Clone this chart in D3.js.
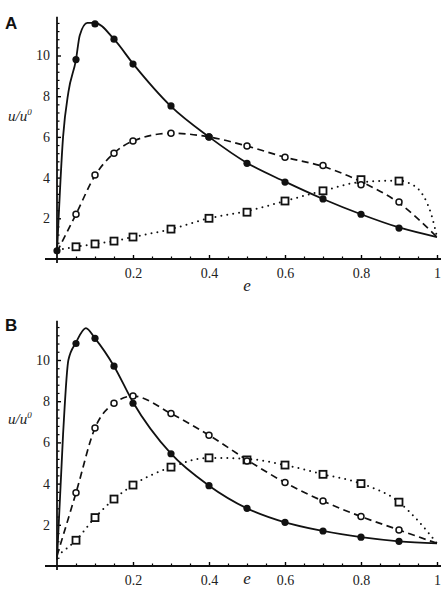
<!DOCTYPE html>
<html>
<head>
<meta charset="utf-8">
<script src="https://cdn.jsdelivr.net/npm/d3@7"></script>
<style>
  body { margin: 0; background: #fff; }
  svg { display: block; }
</style>
</head>
<body>
<div id="chart"></div>
<script>
// sample positions (e)
var markE = [0.05, 0.1, 0.15, 0.2, 0.3, 0.4, 0.5, 0.6, 0.7, 0.8, 0.9];
var xTicks = [0.2, 0.4, 0.6, 0.8, 1];
var yTicks = [2, 4, 6, 8, 10];

// panel A, marker values
var aSolidE = [0, 0.05, 0.1, 0.15, 0.2, 0.3, 0.4, 0.5, 0.6, 0.7, 0.8, 0.9];
var aSolidU = [0.4, 9.8, 11.55, 10.8, 9.58, 7.52, 6.0, 4.7, 3.78, 2.95, 2.2, 1.52];
var aDashU = [2.2, 4.13, 5.2, 5.8, 6.18, 6.0, 5.55, 5.0, 4.6, 3.65, 2.8];
var aDotU = [0.6, 0.74, 0.88, 1.08, 1.47, 2.0, 2.3, 2.85, 3.35, 3.9, 3.83];

// panel A, fitted curves
var aSolidLineE = [0, 0.016, 0.03, 0.05, 0.06, 0.08, 0.1, 0.15, 0.2, 0.3, 0.4, 0.5, 0.6, 0.7, 0.8, 0.9, 1];
var aSolidLineU = [0.3, 6, 8.2, 9.8, 11.0, 11.6, 11.6, 10.8, 9.6, 7.5, 6.0, 4.72, 3.8, 2.95, 2.2, 1.55, 1.08];
var aDashLineE = [0, 0.05, 0.1, 0.15, 0.2, 0.3, 0.4, 0.5, 0.6, 0.7, 0.8, 0.9, 1];
var aDashLineU = [0.35, 2.2, 4.1, 5.2, 5.8, 6.18, 6.0, 5.55, 5.0, 4.55, 3.8, 2.75, 1.08];
var aDotLineE = [0, 0.05, 0.1, 0.15, 0.2, 0.3, 0.4, 0.5, 0.6, 0.7, 0.8, 0.9, 0.93, 0.95, 0.966, 0.987, 1];
var aDotLineU = [0.45, 0.6, 0.74, 0.88, 1.08, 1.47, 2.0, 2.35, 2.85, 3.35, 3.78, 3.85, 3.7, 3.45, 3.05, 2.06, 1.08];

// panel B, marker values
var bSolidE = [0.05, 0.1, 0.15, 0.2, 0.3, 0.4, 0.5, 0.6, 0.7, 0.8, 0.9];
var bSolidU = [10.8, 11.05, 9.7, 7.9, 5.45, 3.9, 2.8, 2.12, 1.7, 1.4, 1.2];
var bDashU = [3.55, 6.7, 7.9, 8.25, 7.4, 6.35, 5.1, 4.05, 3.15, 2.4, 1.75];
var bDotU = [1.25, 2.35, 3.25, 3.93, 4.8, 5.25, 5.15, 4.9, 4.45, 4.0, 3.1];

// panel B, fitted curves
var bSolidLineE = [0, 0.016, 0.03, 0.05, 0.076, 0.1, 0.15, 0.2, 0.3, 0.4, 0.5, 0.6, 0.7, 0.8, 0.9, 1];
var bSolidLineU = [0.3, 6.4, 10.0, 10.85, 11.55, 11.05, 9.7, 7.95, 5.45, 3.9, 2.8, 2.12, 1.7, 1.4, 1.2, 1.1];
var bDashLineE = [0, 0.05, 0.1, 0.15, 0.2, 0.3, 0.4, 0.5, 0.6, 0.7, 0.8, 0.9, 1];
var bDashLineU = [0.5, 3.55, 6.7, 7.9, 8.25, 7.4, 6.35, 5.15, 4.05, 3.15, 2.4, 1.75, 1.1];
var bDotLineE = [0, 0.05, 0.1, 0.15, 0.2, 0.3, 0.4, 0.5, 0.6, 0.7, 0.8, 0.9, 0.95, 1];
var bDotLineU = [0.5, 1.25, 2.35, 3.25, 3.93, 4.8, 5.25, 5.2, 4.9, 4.45, 4.0, 3.1, 2.2, 1.1];

var W = 448, H = 590;
var serif = '"Liberation Serif", "DejaVu Serif", serif';
var svg = d3.select('#chart').append('svg')
  .attr('width', W).attr('height', H);

var x = d3.scaleLinear().domain([0, 1]).range([57, 437]);

function zip(es, us) { return es.map(function (e, i) { return [e, us[i]]; }); }

function panel(opt) {
  var y = d3.scaleLinear().domain([0, 12]).range([opt.base, opt.base - 12 * opt.unit]);
  var g = svg.append('g');

  // minor ticks
  var xMinor = d3.range(0.05, 1.001, 0.05).filter(function (v) { return Math.abs(v * 5 - Math.round(v * 5)) > 1e-6; });
  var yMinor = d3.range(0.4, 11.9, 0.4).filter(function (v) { return Math.abs(v / 2 - Math.round(v / 2)) > 1e-6; });

  g.append('g').attr('transform', 'translate(0,' + y(0) + ')')
    .call(d3.axisBottom(x).tickValues(xMinor).tickSizeInner(-2.5).tickSizeOuter(0).tickFormat(''))
    .call(function (s) { s.select('.domain').remove(); s.selectAll('line').attr('stroke-width', 1.2); });
  g.append('g').attr('transform', 'translate(' + x(0) + ',0)')
    .call(d3.axisLeft(y).tickValues(yMinor).tickSizeInner(-2.5).tickSizeOuter(0).tickFormat(''))
    .call(function (s) { s.select('.domain').remove(); s.selectAll('line').attr('stroke-width', 1.2); });

  // major ticks
  g.append('g').attr('transform', 'translate(0,' + y(0) + ')')
    .call(d3.axisBottom(x).tickValues(xTicks).tickSizeInner(-4).tickSizeOuter(0).tickPadding(9)
      .tickFormat(function (d) { return d === 1 ? '1' : d3.format('.1f')(d); }))
    .attr('font-family', serif).attr('font-size', 14)
    .call(function (s) { s.select('.domain').remove(); s.selectAll('line').attr('stroke-width', 1.4); s.selectAll('text').attr('fill', '#222'); });
  g.append('g').attr('transform', 'translate(' + x(0) + ',0)')
    .call(d3.axisLeft(y).tickValues(yTicks).tickSizeInner(-4).tickSizeOuter(0).tickPadding(7))
    .attr('font-family', serif).attr('font-size', 14)
    .call(function (s) { s.select('.domain').remove(); s.selectAll('line').attr('stroke-width', 1.4); s.selectAll('text').attr('fill', '#222'); });

  // axis lines, crossing at the origin
  g.append('line').attr('x1', 45).attr('x2', 441).attr('y1', y(0)).attr('y2', y(0))
    .attr('stroke', '#111').attr('stroke-width', 1.8);
  g.append('line').attr('x1', x(0)).attr('x2', x(0)).attr('y1', y(0) + 4).attr('y2', y(11.9))
    .attr('stroke', '#111').attr('stroke-width', 1.8);

  var line = d3.line().x(function (d) { return x(d[0]); }).y(function (d) { return y(d[1]); })
    .curve(d3.curveMonotoneX);

  g.append('path').attr('d', line(opt.dotLine)).attr('fill', 'none').attr('stroke', '#111')
    .attr('stroke-width', 2).attr('stroke-linecap', 'round').attr('stroke-dasharray', '0,6');
  g.append('path').attr('d', line(opt.dashLine)).attr('fill', 'none').attr('stroke', '#111')
    .attr('stroke-width', 1.7).attr('stroke-dasharray', '7,4.5');
  g.append('path').attr('d', line(opt.solidLine)).attr('fill', 'none').attr('stroke', '#111')
    .attr('stroke-width', 1.8);

  // markers
  g.selectAll('rect.sq').data(opt.dots).enter().append('rect').attr('class', 'sq')
    .attr('x', function (d) { return x(d[0]) - 3.5; }).attr('y', function (d) { return y(d[1]) - 3.5; })
    .attr('width', 7).attr('height', 7).attr('fill', '#fff').attr('stroke', '#111').attr('stroke-width', 1.8);
  g.selectAll('circle.op').data(opt.dashes).enter().append('circle').attr('class', 'op')
    .attr('cx', function (d) { return x(d[0]); }).attr('cy', function (d) { return y(d[1]); })
    .attr('r', 3).attr('fill', '#fff').attr('stroke', '#111').attr('stroke-width', 1.5);
  g.selectAll('circle.fl').data(opt.solids).enter().append('circle').attr('class', 'fl')
    .attr('cx', function (d) { return x(d[0]); }).attr('cy', function (d) { return y(d[1]); })
    .attr('r', 3.6).attr('fill', '#111');

  // labels
  g.append('text').attr('x', 5).attr('y', opt.letterY).text(opt.letter)
    .attr('font-family', 'Liberation Sans, Arial, sans-serif').attr('font-weight', 'bold')
    .attr('font-size', 17).attr('fill', '#111');
  var yl = g.append('text').attr('x', 8).attr('y', y(opt.ylabU))
    .attr('font-family', serif).attr('font-style', 'italic')
    .attr('font-size', 15).attr('fill', '#222');
  yl.append('tspan').text('u/u');
  yl.append('tspan').attr('dy', -6).attr('font-size', 9).text('0');
  g.append('text').attr('x', x(0.49)).attr('y', Math.min(y(0) + 32, H - 6)).text('e')
    .attr('font-family', serif).attr('font-style', 'italic')
    .attr('font-size', 17).attr('fill', '#222');
}

panel({
  base: 259, unit: 20.35, letter: 'A', letterY: 29, ylabU: 6.8,
  solidLine: zip(aSolidLineE, aSolidLineU),
  dashLine: zip(aDashLineE, aDashLineU),
  dotLine: zip(aDotLineE, aDotLineU),
  solids: zip(aSolidE, aSolidU),
  dashes: zip(markE, aDashU),
  dots: zip(markE, aDotU)
});

panel({
  base: 566, unit: 20.6, letter: 'B', letterY: 331, ylabU: 6.9,
  solidLine: zip(bSolidLineE, bSolidLineU),
  dashLine: zip(bDashLineE, bDashLineU),
  dotLine: zip(bDotLineE, bDotLineU),
  solids: zip(bSolidE, bSolidU),
  dashes: zip(markE, bDashU),
  dots: zip(markE, bDotU)
});
</script>
</body>
</html>
